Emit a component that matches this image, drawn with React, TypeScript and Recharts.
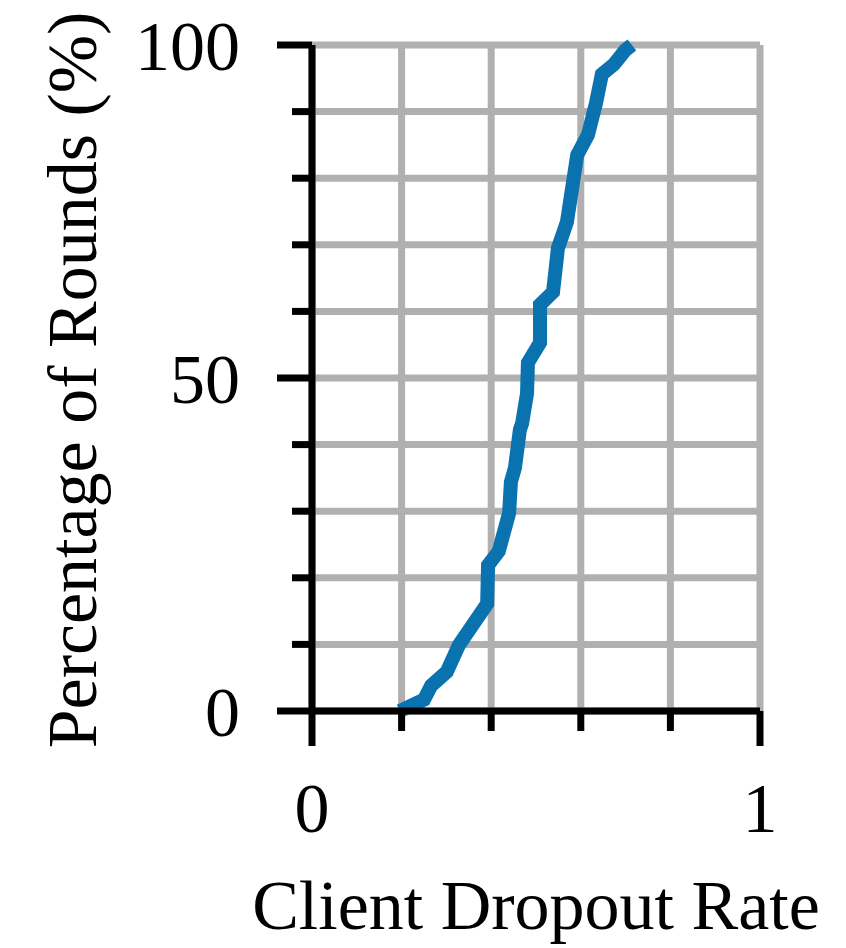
import { LineChart, Line, XAxis, YAxis, CartesianGrid } from 'recharts';

// CDF of client dropout rate across rounds
const dropoutRate = [
  0.196, 0.25, 0.266, 0.301, 0.328, 0.391, 0.393, 0.417, 0.44, 0.444, 0.453, 0.464, 0.469, 0.48,
  0.482, 0.509, 0.509, 0.538, 0.549, 0.569, 0.592, 0.616, 0.634, 0.647, 0.674, 0.699, 0.714,
];
const roundsPct = [
  0, 1.7, 3.8, 5.9, 9.9, 16.1, 21.9, 24.0, 29.7, 34.4, 36.5, 42.2, 43.2, 47.7,
  52.3, 55.3, 61, 62.9, 69.5, 73.4, 83.5, 86.5, 91.3, 95.6, 97.1, 99.2, 100,
];

const xTicks = [0, 0.2, 0.4, 0.6, 0.8, 1];
const xLabeled = [0, 1];
const yTicks = [0, 10, 20, 30, 40, 50, 60, 70, 80, 90, 100];
const yLabeled = [0, 50, 100];

const data = dropoutRate.map((x, i) => ({ x, y: roundsPct[i] }));

const FONT = 'Liberation Serif, Times New Roman, serif';
const AXIS = '#000';

function XTick({ x, y, payload }: any) {
  const major = xLabeled.includes(payload.value);
  return (
    <g>
      <line x1={x} x2={x} y1={y} y2={y + (major ? 35 : 20)} stroke={AXIS} strokeWidth={7} />
      {major && (
        <text x={x} y={y + 121} textAnchor="middle" fontFamily={FONT} fontSize={70} fill="#000">
          {payload.value}
        </text>
      )}
    </g>
  );
}

function YTick({ x, y, payload }: any) {
  const major = yLabeled.includes(payload.value);
  return (
    <g>
      <line x1={x} x2={x - (major ? 35 : 20)} y1={y} y2={y} stroke={AXIS} strokeWidth={7} />
      {major && (
        <text x={x - 72} y={y + 25} textAnchor="end" fontFamily={FONT} fontSize={70} fill="#000">
          {payload.value}
        </text>
      )}
    </g>
  );
}

export default function App() {
  return (
    <div style={{ position: 'absolute', left: 0, top: 0, background: '#fff' }}>
      <LineChart width={846} height={948} data={data} margin={{ top: 45, right: 86, bottom: 0, left: 0 }}>
        <CartesianGrid stroke="#b0b0b0" strokeWidth={7} />
        <Line
          type="linear"
          dataKey="y"
          stroke="#0b72b0"
          strokeWidth={14}
          strokeLinejoin="miter"
          dot={false}
          isAnimationActive={false}
        />
        <XAxis
          dataKey="x"
          type="number"
          domain={[0, 1]}
          ticks={xTicks}
          height={237}
          tickSize={0}
          tickMargin={0}
          tickLine={false}
          tick={<XTick />}
          axisLine={{ stroke: AXIS, strokeWidth: 7 }}
          label={{
            content: ({ viewBox }: any) => (
              <text
                x={viewBox.x + viewBox.width / 2}
                y={viewBox.y + 218}
                textAnchor="middle"
                fontFamily={FONT}
                fontSize={70}
                fill="#000"
              >
                Client Dropout Rate
              </text>
            ),
          }}
        />
        <YAxis
          type="number"
          domain={[0, 100]}
          ticks={yTicks}
          width={312}
          tickSize={0}
          tickMargin={0}
          tickLine={false}
          tick={<YTick />}
          axisLine={{ stroke: AXIS, strokeWidth: 7 }}
          label={{
            content: ({ viewBox }: any) => {
              const cx = 96;
              const cy = viewBox.y + viewBox.height / 2 + 2;
              return (
                <text
                  x={cx}
                  y={cy}
                  transform={`rotate(-90, ${cx}, ${cy})`}
                  textAnchor="middle"
                  fontFamily={FONT}
                  fontSize={70}
                  fill="#000"
                >
                  Percentage of Rounds (%)
                </text>
              );
            },
          }}
        />
      </LineChart>
    </div>
  );
}
